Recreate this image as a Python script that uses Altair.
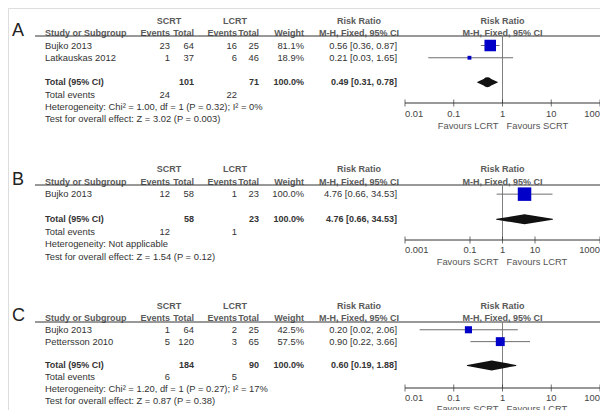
import altair as alt
import pandas as pd

FONT = "Liberation Sans"

# ---------------- Panel A ----------------
A_studies = ["Bujko 2013", "Latkauskas 2012"]
A_scrt_events = [23, 1]
A_scrt_total = [64, 37]
A_lcrt_events = [16, 6]
A_lcrt_total = [25, 46]
A_weight = [81.1, 18.9]
A_rr = [0.56, 0.21]
A_lo = [0.36, 0.03]
A_hi = [0.87, 1.65]
A_total_n = [101, 71]
A_total_events = [24, 22]
A_total_rr = [0.49, 0.31, 0.78]
A_het = "Heterogeneity: Chi² = 1.00, df = 1 (P = 0.32); I² = 0%"
A_test = "Test for overall effect: Z = 3.02 (P = 0.003)"
A_ticks = [0.01, 0.1, 1, 10, 100]
A_tick_labels = ["0.01", "0.1", "1", "10", "100"]
A_favours = ["Favours LCRT", "Favours SCRT"]

# ---------------- Panel B ----------------
B_studies = ["Bujko 2013"]
B_scrt_events = [12]
B_scrt_total = [58]
B_lcrt_events = [1]
B_lcrt_total = [23]
B_weight = [100.0]
B_rr = [4.76]
B_lo = [0.66]
B_hi = [34.53]
B_total_n = [58, 23]
B_total_events = [12, 1]
B_total_rr = [4.76, 0.66, 34.53]
B_het = "Heterogeneity: Not applicable"
B_test = "Test for overall effect: Z = 1.54 (P = 0.12)"
B_ticks = [0.001, 0.1, 1, 10, 1000]
B_tick_labels = ["0.001", "0.1", "1", "10", "1000"]
B_favours = ["Favours SCRT", "Favours LCRT"]

# ---------------- Panel C ----------------
C_studies = ["Bujko 2013", "Pettersson 2010"]
C_scrt_events = [1, 5]
C_scrt_total = [64, 120]
C_lcrt_events = [2, 3]
C_lcrt_total = [25, 65]
C_weight = [42.5, 57.5]
C_rr = [0.20, 0.90]
C_lo = [0.02, 0.22]
C_hi = [2.06, 3.66]
C_total_n = [184, 90]
C_total_events = [6, 5]
C_total_rr = [0.60, 0.19, 1.88]
C_het = "Heterogeneity: Chi² = 1.20, df = 1 (P = 0.27); I² = 17%"
C_test = "Test for overall effect: Z = 0.87 (P = 0.38)"
C_ticks = [0.01, 0.1, 1, 10, 100]
C_tick_labels = ["0.01", "0.1", "1", "10", "100"]
C_favours = ["Favours SCRT", "Favours LCRT"]

# column layout (x position in px, alignment)
COLS = {
    "study": (37, "left"),
    "scrt": (161, "center"),
    "lcrt": (227, "center"),
    "se": (162, "right"),
    "st": (186, "right"),
    "le": (229, "right"),
    "lt": (251, "right"),
    "w": (296, "right"),
    "cihdr": (351, "center"),
    "ci": (389, "right"),
}
STYLES = {
    "hdr": dict(fontWeight="bold", color="#5a5a5a", fontSize=9),
    "body": dict(fontWeight="normal", color="#333333", fontSize=9.4),
    "bold": dict(fontWeight="bold", color="#333333", fontSize=9),
}
FOREST_RANGE = [397, 592]
W, H = 592, 402


def ci_text(r, l, h):
    return f"{r:.2f} [{l:.2f}, {h:.2f}]"


def panel(letter, studies, se, st, le, lt, w, rr, lo, hi, tot_n, tot_ev, tot_rr,
          het, test, ticks, tick_labels, favours, L):
    rows = [f"r{i}" for i in range(len(studies))]
    slots = ["h1", "h2"] + rows + ["gap", "total", "events", "het", "test"]
    yscale = alt.Scale(type="point", domain=slots, range=L["yrange"], padding=0)
    yenc = alt.Y("slot:N", scale=yscale, axis=None)
    xscale = alt.Scale(type="log", domain=[ticks[0], ticks[-1]], range=FOREST_RANGE, nice=False)

    def X(field=None, datum=None):
        if datum is not None:
            return alt.X(datum=datum, type="quantitative", scale=xscale, axis=None)
        return alt.X(field, type="quantitative", scale=xscale, axis=None)

    recs = []

    def add(slot, col, text, style):
        recs.append(dict(slot=slot, col=col, text=str(text), style=style))

    add("h1", "scrt", "SCRT", "hdr")
    add("h1", "lcrt", "LCRT", "hdr")
    add("h1", "cihdr", "Risk Ratio", "hdr")
    add("h2", "study", "Study or Subgroup", "hdr")
    add("h2", "se", "Events", "hdr")
    add("h2", "st", "Total", "hdr")
    add("h2", "le", "Events", "hdr")
    add("h2", "lt", "Total", "hdr")
    add("h2", "w", "Weight", "hdr")
    add("h2", "cihdr", "M-H, Fixed, 95% CI", "hdr")
    for i, s in enumerate(studies):
        r = rows[i]
        add(r, "study", s, "body")
        add(r, "se", se[i], "body")
        add(r, "st", st[i], "body")
        add(r, "le", le[i], "body")
        add(r, "lt", lt[i], "body")
        add(r, "w", f"{w[i]:.1f}%", "body")
        add(r, "ci", ci_text(rr[i], lo[i], hi[i]), "body")
    add("total", "study", "Total (95% CI)", "bold")
    add("total", "st", tot_n[0], "bold")
    add("total", "lt", tot_n[1], "bold")
    add("total", "w", f"{sum(w):.1f}%", "bold")
    add("total", "ci", ci_text(*tot_rr), "bold")
    add("events", "study", "Total events", "body")
    add("events", "se", tot_ev[0], "body")
    add("events", "le", tot_ev[1], "body")
    add("het", "study", het, "body")
    add("test", "study", test, "body")
    table = pd.DataFrame(recs)

    layers = []
    for col, (xpos, align) in COLS.items():
        for sty, props in STYLES.items():
            sub = table[(table.col == col) & (table["style"] == sty)]
            if len(sub) == 0:
                continue
            layers.append(
                alt.Chart(sub).mark_text(align=align, baseline="middle", font=FONT, **props)
                .encode(x=alt.value(xpos), y=yenc, text="text:N")
            )

    one = pd.DataFrame({"k": [0]})

    # panel letter
    layers.append(
        alt.Chart(pd.DataFrame({"slot": ["h2"], "text": [letter]}))
        .mark_text(align="left", baseline="alphabetic", fontSize=18, font=FONT,
                   color="#222222", dy=3)
        .encode(x=alt.value(4), y=yenc, text="text:N")
    )
    # header rule
    layers.append(
        alt.Chart(one).mark_rule(color="#333333", strokeWidth=1)
        .encode(x=alt.value(27), x2=alt.value(W), y=alt.value(L["line_y"]))
    )
    # line of no effect
    layers.append(
        alt.Chart(one).mark_rule(color="#808080", strokeWidth=1)
        .encode(x=X(datum=1), y=alt.value(L["line_y"]), y2=alt.value(L["axis_y"]))
    )
    # forest header
    layers.append(
        alt.Chart(pd.DataFrame({"slot": ["h1", "h2"], "text": ["Risk Ratio", "M-H, Fixed, 95% CI"]}))
        .mark_text(align="center", baseline="middle", font=FONT, **STYLES["hdr"])
        .encode(x=X(datum=1), y=yenc, text="text:N")
    )
    # study CIs and squares
    sdf = pd.DataFrame({"slot": rows, "rr": rr, "lo": lo, "hi": hi, "w": w})
    layers.append(
        alt.Chart(sdf).mark_rule(color="#6e6e6e", strokeWidth=1)
        .encode(x=X("lo"), x2="hi:Q", y=yenc)
    )
    layers.append(
        alt.Chart(sdf).mark_square(color="#0000c8", opacity=1)
        .encode(x=X("rr"), y=yenc,
                size=alt.Size("w:Q", scale=alt.Scale(type="pow", exponent=1.5, domain=[0, 100],
                                                     range=[0, 182]), legend=None))
    )
    # total diamond
    ddf = pd.DataFrame({"slot": ["total"] * 3, "x": [tot_rr[1], tot_rr[0], tot_rr[2]],
                        "v": [0, 1, 0]})
    layers.append(
        alt.Chart(ddf).mark_trail(color="#111111")
        .encode(x=X("x"), y=yenc,
                size=alt.Size("v:Q", scale=alt.Scale(domain=[0, 1], range=[0, 10]), legend=None))
    )
    # axis line, ticks and labels
    tdf = pd.DataFrame({"t": ticks, "lab": tick_labels})
    layers.append(
        alt.Chart(pd.DataFrame({"a": [ticks[0]], "b": [ticks[-1]]})).mark_rule(color="#333333")
        .encode(x=X("a"), x2="b:Q", y=alt.value(L["axis_y"]))
    )
    layers.append(
        alt.Chart(tdf).mark_tick(color="#333333", thickness=1, size=7)
        .encode(x=X("t"), y=alt.value(L["axis_y"]))
    )
    for part, align in ((tdf.iloc[:1], "left"), (tdf.iloc[1:-1], "center"), (tdf.iloc[-1:], "right")):
        layers.append(
            alt.Chart(part).mark_text(align=align, baseline="middle", fontSize=9.4, font=FONT,
                                      color="#444444")
            .encode(x=X("t"), y=alt.value(L["lab_y"]), text="lab:N")
        )
    # favours labels
    layers.append(
        alt.Chart(pd.DataFrame({"text": [favours[0]]}))
        .mark_text(align="right", baseline="middle", dx=-4, fontSize=9.4, font=FONT, color="#555555")
        .encode(x=X(datum=1), y=alt.value(L["fav_y"]), text="text:N")
    )
    layers.append(
        alt.Chart(pd.DataFrame({"text": [favours[1]]}))
        .mark_text(align="left", baseline="middle", dx=4, fontSize=9.4, font=FONT, color="#555555")
        .encode(x=X(datum=1), y=alt.value(L["fav_y"]), text="text:N")
    )
    return layers


LA = dict(yrange=[13, 111], axis_y=95, line_y=28, lab_y=106, fav_y=118)
LB = dict(yrange=[161, 249], axis_y=232, line_y=177, lab_y=242, fav_y=254)
LC = dict(yrange=[298, 393], axis_y=380, line_y=314, lab_y=390, fav_y=401)

layers = []
layers += panel("A", A_studies, A_scrt_events, A_scrt_total, A_lcrt_events, A_lcrt_total, A_weight,
                A_rr, A_lo, A_hi, A_total_n, A_total_events, A_total_rr, A_het, A_test, A_ticks,
                A_tick_labels, A_favours, LA)
layers += panel("B", B_studies, B_scrt_events, B_scrt_total, B_lcrt_events, B_lcrt_total, B_weight,
                B_rr, B_lo, B_hi, B_total_n, B_total_events, B_total_rr, B_het, B_test, B_ticks,
                B_tick_labels, B_favours, LB)
layers += panel("C", C_studies, C_scrt_events, C_scrt_total, C_lcrt_events, C_lcrt_total, C_weight,
                C_rr, C_lo, C_hi, C_total_n, C_total_events, C_total_rr, C_het, C_test, C_ticks,
                C_tick_labels, C_favours, LC)

chart = (alt.layer(*layers)
         .resolve_scale(x="independent", y="independent", size="independent")
         .properties(width=W, height=H, padding=0,
                     autosize=alt.AutoSizeParams(type="none"))
         .configure_view(stroke=None)
         .configure(font=FONT))

chart.save("out.html", embed_options={"renderer": "svg", "actions": False})
